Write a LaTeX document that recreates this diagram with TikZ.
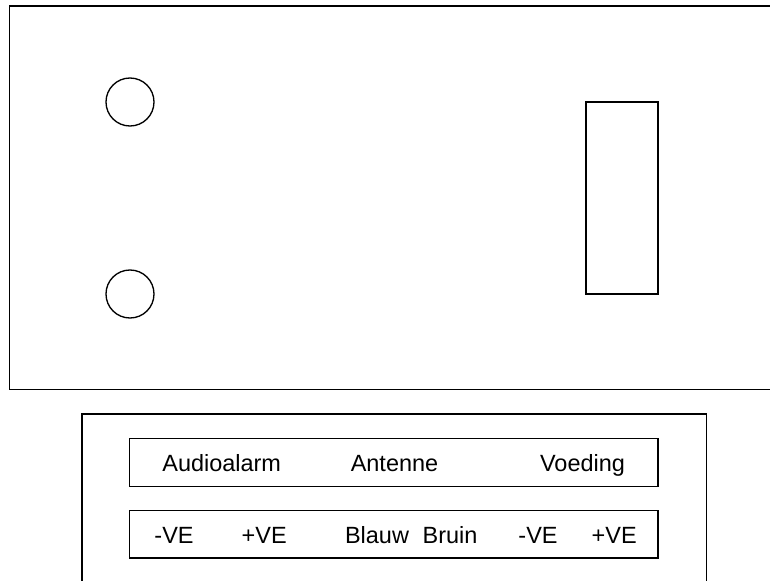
\documentclass[tikz,border=0pt]{standalone}
\usepackage{fontspec}
\setmainfont{Liberation Sans}
\usetikzlibrary{positioning}

\begin{document}
\begin{tikzpicture}[x=0.75pt, y=-0.75pt]
    % Stijlen
    \tikzstyle{panel} = [draw, line width=1.2pt]
    \tikzstyle{hole} = [draw, line width=1pt]
    \tikzstyle{slot} = [draw, line width=1.4pt]
    \tikzstyle{strip} = [draw, line width=1.2pt]
    \tikzstyle{label} = [font=\fontsize{17.6}{20}\selectfont, anchor=base, inner sep=0pt]

    \useasboundingbox (0,0) rectangle (770,581);
    \clip (0,0) rectangle (770,581);

    % Behuizing
    \draw[panel] (9.5,6) rectangle (800,389.5);
    \draw[hole] (130,102) circle (24);
    \draw[hole] (130,294) circle (24);
    \draw[slot] (586,102.3) rectangle (658,294.3);

    % Aansluitpaneel
    \draw[panel] (82,414) rectangle (706.3,620);
    \draw[strip] (129.5,438.3) rectangle (657.8,486.3);
    \draw[strip] (129.5,510.3) rectangle (657.8,557.7);

    % Teksten
    \node[label] (audio) at (221.7,471.5) {Audioalarm};
    \node[label] (antenne) at (394.5,471.5) {Antenne};
    \node[label] (voeding) at (582.5,471.5) {Voeding};

    \node[label] (amin) at (174,543) {-VE};
    \node[label] (aplus) at (264.2,543) {+VE};
    \node[label] (blauw) at (377,543) {Blauw};
    \node[label] (bruin) at (450,543) {Bruin};
    \node[label] (vmin) at (538,543) {-VE};
    \node[label] (vplus) at (614.2,543) {+VE};
\end{tikzpicture}
\end{document}
